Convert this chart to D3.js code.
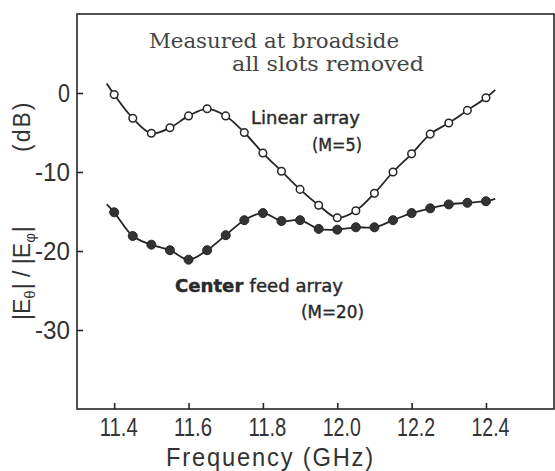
<!DOCTYPE html>
<html><head><meta charset="utf-8">
<script src="https://cdn.jsdelivr.net/npm/d3@7"></script>
<style>
html,body{margin:0;padding:0;background:#fff;}
svg{display:block;}
</style></head>
<body>
<svg id="chart" width="555" height="471"></svg>
<script>
// ---- data ----
const freq = [11.4, 11.45, 11.5, 11.55, 11.6, 11.65, 11.7, 11.75, 11.8, 11.85, 11.9,
              11.95, 12.0, 12.05, 12.1, 12.15, 12.2, 12.25, 12.3, 12.35, 12.4];
const linearArray = [-0.2, -3.2, -5.1, -4.4, -2.9, -2.0, -2.9, -5.0, -7.6, -9.9, -12.2,
                     -14.2, -15.8, -14.9, -12.7, -10.0, -7.7, -5.2, -3.8, -2.2, -0.6];
const centerFeed = [-15.1, -18.1, -19.2, -19.9, -21.1, -19.9, -18.0, -16.1, -15.2, -16.2, -16.1,
                    -17.2, -17.3, -17.0, -17.0, -16.1, -15.2, -14.6, -14.1, -13.9, -13.7];
// curve end extensions (frequency, value) beyond first/last markers
const curveEndFreq = [11.38, 12.425];
const linearEnds = [1.2, 0.4];
const centerEnds = [-14.1, -13.4];
const xTicks = [11.4, 11.6, 11.8, 12.0, 12.2, 12.4];
const yTicks = [0, -10, -20, -30];
const xDomain = [11.3, 12.583];
const yDomain = [-40, 10];

// ---- layout ----
const svg = d3.select("#chart");
const L = 77, R = 554, T = 14, B = 409;
const x = d3.scaleLinear().domain(xDomain).range([L, R]);
const y = d3.scaleLinear().domain(yDomain).range([B, T]);
const ink = "#262626";
const tickFont = "'Liberation Sans Narrow', 'Liberation Sans', sans-serif";

// frame
svg.append("rect").attr("x", L).attr("y", T).attr("width", R - L).attr("height", B - T)
  .attr("fill", "none").attr("stroke", ink).attr("stroke-width", 1.6);

// x axis (ticks inward)
const xAxis = d3.axisBottom(x).tickValues(xTicks).tickSizeInner(-6).tickSizeOuter(0)
  .tickFormat(d3.format(".1f"));
const gx = svg.append("g").attr("transform", `translate(0,${B})`).call(xAxis);
gx.select(".domain").remove();
gx.selectAll(".tick line").attr("stroke", ink).attr("stroke-width", 1.6);
gx.selectAll(".tick text").attr("fill", "#333").attr("font-family", tickFont)
  .attr("font-size", 25).attr("dy", 0).attr("y", 27).attr("x", 4)
  .attr("textLength", 38).attr("lengthAdjust", "spacingAndGlyphs");

// y axis (ticks inward)
const yAxis = d3.axisLeft(y).tickValues(yTicks).tickSizeInner(-6).tickSizeOuter(0)
  .tickFormat(d => d === 0 ? "0" : "-" + Math.abs(d));
const gy = svg.append("g").attr("transform", `translate(${L},0)`).call(yAxis);
gy.select(".domain").remove();
gy.selectAll(".tick line").attr("stroke", ink).attr("stroke-width", 1.6);
gy.selectAll(".tick text").attr("fill", "#333").attr("font-family", tickFont)
  .attr("font-size", 25).attr("x", -7).attr("dy", "0.35em")
  .attr("textLength", d => d === 0 ? 12 : 35).attr("lengthAdjust", "spacingAndGlyphs");

// x label
svg.append("text").attr("x", 166).attr("y", 466).attr("fill", "#333")
  .attr("font-family", tickFont).attr("font-size", 26)
  .attr("textLength", 209).attr("lengthAdjust", "spacingAndGlyphs")
  .attr("letter-spacing", 2)
  .text("Frequency (GHz)");

// y label
const yl = svg.append("text").attr("transform", "translate(30,320) rotate(-90)")
  .attr("fill", "#333").attr("font-family", tickFont).attr("font-size", 23);
yl.append("tspan").text("|E");
yl.append("tspan").attr("font-size", 15).attr("dy", 5).text("\u03b8");
yl.append("tspan").attr("dy", -5).attr("dx", 1).text("| / |E");
yl.append("tspan").attr("font-size", 15).attr("dy", 5).text("\u03c6");
yl.append("tspan").attr("dy", -5).attr("dx", 1).text("|");
svg.append("text").attr("transform", "translate(30,152) rotate(-90)")
  .attr("fill", "#333").attr("font-family", tickFont).attr("font-size", 23)
  .attr("letter-spacing", 2).text("(dB)");

// title
const serif = "'DejaVu Serif', 'Liberation Serif', serif";
svg.append("text").attr("x", 149).attr("y", 48).attr("fill", "#444")
  .attr("font-family", serif).attr("font-size", 20)
  .attr("textLength", 250).attr("lengthAdjust", "spacingAndGlyphs").text("Measured at broadside");
svg.append("text").attr("x", 232).attr("y", 71).attr("fill", "#444")
  .attr("font-family", serif).attr("font-size", 20)
  .attr("textLength", 192).attr("lengthAdjust", "spacingAndGlyphs").text("all slots removed");

// series lines
const line = d3.line().x(d => x(d[0])).y(d => y(d[1])).curve(d3.curveCatmullRom.alpha(0.5));
function series(vals, ends) {
  return [[curveEndFreq[0], ends[0]]]
    .concat(freq.map((f, i) => [f, vals[i]]))
    .concat([[curveEndFreq[1], ends[1]]]);
}
svg.append("path").datum(series(linearArray, linearEnds)).attr("d", line)
  .attr("fill", "none").attr("stroke", ink).attr("stroke-width", 1.8);
svg.append("path").datum(series(centerFeed, centerEnds)).attr("d", line)
  .attr("fill", "none").attr("stroke", ink).attr("stroke-width", 1.8);

// markers
svg.append("g").selectAll("circle").data(freq.map((f, i) => [f, linearArray[i]])).join("circle")
  .attr("cx", d => x(d[0])).attr("cy", d => y(d[1])).attr("r", 3.8)
  .attr("fill", "#fff").attr("stroke", ink).attr("stroke-width", 1.5);
svg.append("g").selectAll("circle").data(freq.map((f, i) => [f, centerFeed[i]])).join("circle")
  .attr("cx", d => x(d[0])).attr("cy", d => y(d[1])).attr("r", 4.5)
  .attr("fill", "#333").attr("stroke", ink).attr("stroke-width", 1);

// annotations
const sans = "'DejaVu Sans', 'Noto Sans', sans-serif";
function ann(tx, ty, len, str) {
  return svg.append("text").attr("x", tx).attr("y", ty).attr("fill", "#2a2a2a")
    .attr("stroke", "#2a2a2a").attr("stroke-width", 0.4)
    .attr("font-family", sans).attr("font-size", 17)
    .attr("textLength", len).attr("lengthAdjust", "spacingAndGlyphs").text(str);
}
ann(251, 124, 109, "Linear array");
ann(312, 151, 50, "(M=5)");
const cf = ann(175, 292, 168, null);
cf.append("tspan").attr("font-weight", "bold").text("Center ");
cf.append("tspan").text("feed array");
ann(301, 318, 63, "(M=20)");
</script>
</body></html>
